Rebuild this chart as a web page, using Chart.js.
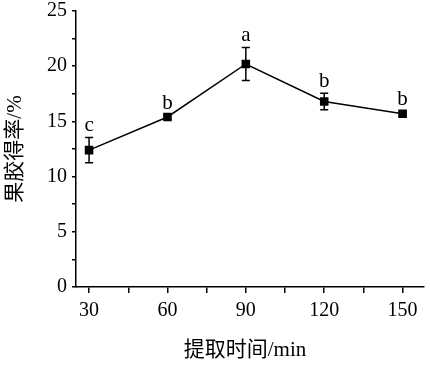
<!DOCTYPE html>
<html lang="zh">
<head>
<meta charset="UTF-8">
<title>果胶得率</title>
<script src="https://cdn.jsdelivr.net/npm/chart.js"></script>
<style>
  html, body { margin: 0; padding: 0; background: #fff; }
  #wrap { width: 430px; height: 366px; }
</style>
</head>
<body>
<div id="wrap"><canvas id="myChart" width="430" height="366"></canvas></div>
<script>
// 数据
const times = [30, 60, 90, 120, 150];
const yieldVals = [12.4, 15.4, 20.2, 16.8, 15.7];
const errVals = [1.15, 0.2, 1.5, 0.75, 0.2];
const letters = ['c', 'b', 'a', 'b', 'b'];
const xTicks = [30, 45, 60, 75, 90, 105, 120, 135, 150];
const yTicks = [0, 2.5, 5, 7.5, 10, 12.5, 15, 17.5, 20, 22.5, 25];

const serif = "'Liberation Serif', 'Times New Roman', serif";
const cjk = "'Liberation Serif', 'Noto Sans CJK SC', serif";

// 误差线 + 字母标注 + 坐标轴标题
const extras = {
  id: 'extras',
  afterDatasetsDraw(chart) {
    const ctx = chart.ctx;
    const xs = chart.scales.x, ys = chart.scales.y;
    ctx.save();
    ctx.strokeStyle = '#000';
    ctx.lineWidth = 1.5;
    times.forEach((t, i) => {
      const x = xs.getPixelForValue(t);
      const top = ys.getPixelForValue(yieldVals[i] + errVals[i]);
      const bot = ys.getPixelForValue(yieldVals[i] - errVals[i]);
      ctx.beginPath();
      ctx.moveTo(x, top); ctx.lineTo(x, bot);
      ctx.moveTo(x - 4, top); ctx.lineTo(x + 4, top);
      ctx.moveTo(x - 4, bot); ctx.lineTo(x + 4, bot);
      ctx.stroke();
      ctx.fillStyle = '#000';
      ctx.font = '21px ' + serif;
      ctx.textAlign = 'center';
      ctx.textBaseline = 'bottom';
      ctx.fillText(letters[i], x, top - 1);
    });
    ctx.restore();
  },
  afterDraw(chart) {
    const ctx = chart.ctx;
    const a = chart.chartArea;
    ctx.save();
    ctx.fillStyle = '#000';
    ctx.font = '21px ' + cjk;
    ctx.textAlign = 'center';
    ctx.textBaseline = 'middle';
    ctx.fillText('提取时间/min', 245, 350);
    ctx.translate(15, (a.top + a.bottom) / 2);
    ctx.rotate(-Math.PI / 2);
    ctx.fillText('果胶得率/%', 0, 0);
    ctx.restore();
  }
};

const ctx = document.getElementById('myChart').getContext('2d');
new Chart(ctx, {
  type: 'line',
  data: {
    datasets: [{
      data: times.map((t, i) => ({ x: t, y: yieldVals[i] })),
      borderColor: '#000',
      backgroundColor: '#000',
      borderWidth: 1.5,
      pointStyle: 'rect',
      pointRadius: 5,
      pointHoverRadius: 5,
      tension: 0
    }]
  },
  options: {
    responsive: false,
    animation: false,
    layout: { padding: { top: 11, right: 0, left: 0, bottom: 0 } },
    plugins: { legend: { display: false }, tooltip: { enabled: false } },
    scales: {
      x: {
        type: 'linear',
        min: 25,
        max: 158,
        afterBuildTicks: s => { s.ticks = xTicks.map(v => ({ value: v })); },
        afterFit: s => { s.height = 79; s.paddingLeft = 0; s.paddingRight = 0; },
        grid: { drawOnChartArea: false, tickLength: 6, color: '#000', lineWidth: 1.5 },
        border: { color: '#000', width: 1.5 },
        ticks: {
          color: '#000',
          font: { family: serif, size: 20 },
          padding: 6,
          maxRotation: 0,
          callback: v => (v % 30 === 0 ? v : '')
        }
      },
      y: {
        min: 0,
        max: 25,
        afterBuildTicks: s => { s.ticks = yTicks.map(v => ({ value: v })); },
        afterFit: s => { s.width = 76; s.paddingTop = 0; s.paddingBottom = 0; },
        grid: { drawOnChartArea: false, tickLength: 4, color: '#000', lineWidth: 1.5 },
        border: { color: '#000', width: 1.5 },
        ticks: {
          color: '#000',
          font: { family: serif, size: 20 },
          padding: 5,
          callback: v => (v % 5 === 0 ? v : '')
        }
      }
    }
  },
  plugins: [extras]
});
</script>
</body>
</html>
